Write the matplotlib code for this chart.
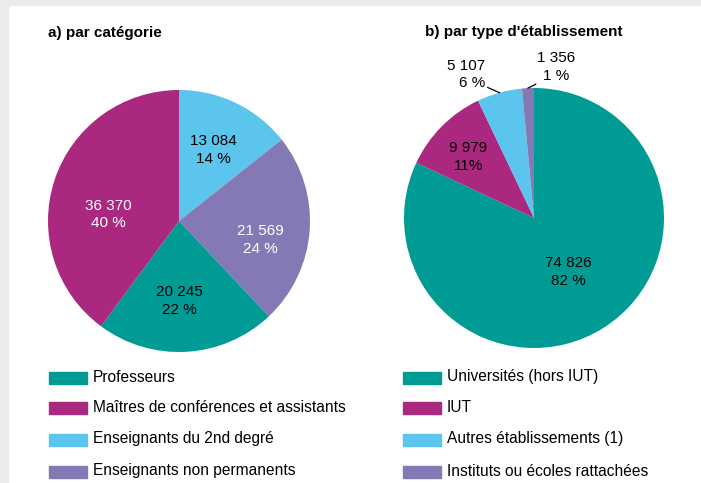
import matplotlib
matplotlib.use("Agg")
import matplotlib.pyplot as plt
import numpy as np
from matplotlib.patches import Rectangle

plt.rcParams["font.family"] = ["Liberation Sans", "DejaVu Sans"]

# --- data -------------------------------------------------------------
cat_labels = ["Professeurs", "Maîtres de conférences et assistants",
              "Enseignants du 2nd degré", "Enseignants non permanents"]
cat_values = [20245, 36370, 13084, 21569]
cat_pct = ["22 %", "40 %", "14 %", "24 %"]

etab_labels = ["Universités (hors IUT)", "IUT",
               "Autres établissements (1)", "Instituts ou écoles rattachées"]
etab_values = [74826, 9979, 5107, 1356]
etab_pct = ["82 %", "11%", "6 %", "1 %"]

TEAL, MAGENTA, SKY, LILAC = "#009b95", "#aa2880", "#5cc5ed", "#8479b5"
colors = [TEAL, MAGENTA, SKY, LILAC]

W, H = 701, 483
LABEL_FS = 11
LABEL_LS = 1.35

fig = plt.figure(figsize=(W / 100, H / 100), dpi=100)
fig.patch.set_facecolor("white")

# grey page border (top and left)
fig.patches.append(Rectangle((0, 1 - 5 / H), 1, 5 / H, transform=fig.transFigure,
                             color="#ebebeb", zorder=0))
fig.patches.append(Rectangle((0, 0), 8 / W, 1, transform=fig.transFigure,
                             color="#ebebeb", zorder=0))


def fmt(v):
    return f"{v:,}".replace(",", " ")


def pie_axes(cx, cy, r):
    ax = fig.add_axes([(cx - r) / W, (H - cy - r) / H, 2 * r / W, 2 * r / H])
    return ax


def wedge_point(w, dang, dist):
    ang = np.deg2rad((w.theta1 + w.theta2) / 2 + dang)
    return dist * np.cos(ang), dist * np.sin(ang)


# --- a) par catégorie -------------------------------------------------
ax1 = pie_axes(179, 221, 131)
order_a = [2, 3, 0, 1]  # clockwise from top: 2nd degré, non perm., prof., MCF
wedges_a, _ = ax1.pie([cat_values[i] for i in order_a],
                      colors=[colors[i] for i in order_a],
                      startangle=90, counterclock=False, radius=1,
                      wedgeprops=dict(linewidth=0))
ax1.set_xlim(-1, 1)
ax1.set_ylim(-1, 1)
ax1.set_aspect("equal")
# (angle tweak, distance, text colour) per wedge in drawing order
style_a = [(0, 0.60, "black"), (-9, 0.64, "white"),
           (-3, 0.61, "black"), (13, 0.54, "white")]
for w, i, (da, d, c) in zip(wedges_a, order_a, style_a):
    x, y = wedge_point(w, da, d)
    ax1.text(x, y, f"{fmt(cat_values[i])}\n{cat_pct[i]}", ha="center", va="center",
             color=c, fontsize=LABEL_FS, linespacing=LABEL_LS)

fig.text(48 / W, 1 - 33 / H, "a) par catégorie", fontsize=11, fontweight="bold",
         ha="left", va="center")

# --- b) par type d'établissement -------------------------------------
ax2 = pie_axes(534, 218, 130)
wedges_b, _ = ax2.pie(etab_values, colors=colors, startangle=90, counterclock=False,
                      radius=1, wedgeprops=dict(linewidth=0))
ax2.set_xlim(-1, 1)
ax2.set_ylim(-1, 1)
ax2.set_aspect("equal")

for w, i, (da, d) in zip(wedges_b[:2], [0, 1], [(0, 0.49), (2, 0.69)]):
    x, y = wedge_point(w, da, d)
    ax2.text(x, y, f"{fmt(etab_values[i])}\n{etab_pct[i]}", ha="center", va="center",
             color="black", fontsize=LABEL_FS, linespacing=LABEL_LS)

# small slices: labels outside with leader lines
w = wedges_b[2]
x0, y0 = wedge_point(w, 0, 1.0)
ax2.plot([x0, x0 - 0.09], [y0, y0 + 0.04], color="black", lw=0.9, clip_on=False)
ax2.text(x0 - 0.11, y0 + 0.14, f"{fmt(etab_values[2])}\n{etab_pct[2]}", ha="right",
         va="center", fontsize=LABEL_FS, linespacing=LABEL_LS)

w = wedges_b[3]
x0, y0 = wedge_point(w, 0, 1.0)
ax2.plot([x0, x0 + 0.06], [y0, y0 + 0.03], color="black", lw=0.9, clip_on=False)
ax2.text(x0 + 0.22, y0 + 0.16, f"{fmt(etab_values[3])}\n{etab_pct[3]}", ha="center",
         va="center", fontsize=LABEL_FS, linespacing=LABEL_LS)

fig.text(524 / W, 1 - 32 / H, "b) par type d'établissement", fontsize=11,
         fontweight="bold", ha="center", va="center")

# --- legends ----------------------------------------------------------
rows_y = [378, 408, 440, 472]
for x_patch, names in [(49, cat_labels), (403, etab_labels)]:
    for yy, name, c in zip(rows_y, names, colors):
        fig.patches.append(Rectangle((x_patch / W, 1 - (yy + 6) / H), 38 / W, 12 / H,
                                     transform=fig.transFigure, color=c))
        fig.text((x_patch + 44) / W, 1 - (yy - 1) / H, name, fontsize=11.2,
                 ha="left", va="center")

fig.savefig("out.png", dpi=100, facecolor=fig.get_facecolor())
